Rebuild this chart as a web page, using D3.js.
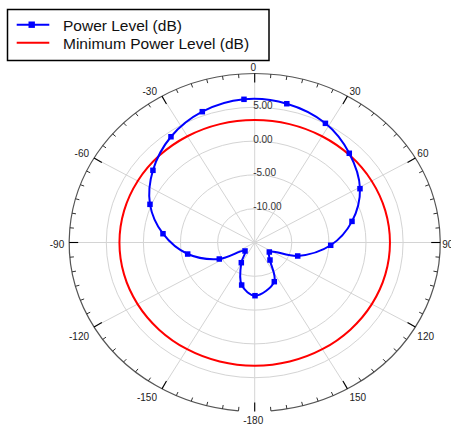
<!DOCTYPE html>
<html><head><meta charset="utf-8">
<script src="https://cdn.jsdelivr.net/npm/d3@7"></script>
<style>
html,body{margin:0;padding:0;background:#fff;}
svg{display:block;font-family:"Liberation Sans",Arial,sans-serif;}
</style></head>
<body><svg id="c" width="451" height="426"></svg>
<script>
// ---- data ----
const seriesNames = ["Power Level (dB)", "Minimum Power Level (dB)"];
const powerAngles = [-3.9, 11.9, 28.4, 44, 60.7, 76.6, 92.3, 109, 125.5, 141.5, 155.5, 179.7,
  -164.4, -148.9, -133.9, -117.1, -100.7, -84, -68.2, -52.1, -35.8, -20.05];
const powerValues = [6.23, 5.98, 5.04, 3.35, 1.27, -1.52, -4.75, -8.87, -12.58, -11.69, -8.63, -7.13,
  -8.47, -11.51, -13.19, -9.64, -5.81, -2.57, 0.2, 2.38, 4.29, 5.6];
const minAngles = [0, 15, 30, 45, 60, 75, 90, 105, 120, 135, 150, 165, 180, 195, 210, 225, 240, 255, 270, 285, 300, 315, 330, 345];
const minValues = [3.12, 3.13, 3.15, 3.18, 3.2, 3.22, 3.23, 3.23, 3.23, 3.23, 3.23, 3.23, 3.23, 3.23, 3.23, 3.23, 3.23, 3.23, 3.23, 3.22, 3.2, 3.18, 3.15, 3.13];
const radialTicks = [-10, -5, 0, 5];
const radialTickLabels = ["-10.00", "-5.00", "0.00", "5.00"];
const angleTicks = [0, 30, 60, 90, 120, 150, 180, 210, 240, 270, 300, 330];
const angleTickLabels = ["0", "30", "60", "90", "120", "150", "-180", "-150", "-120", "-90", "-60", "-30"];
const radialDomain = [-15, 10];

// ---- layout ----
const svg = d3.select("#c");
const cx = 254.7, cy = 242.5, RX = 185.5, RY = 169;
const rX = d3.scaleLinear().domain(radialDomain).range([0, RX]);
const rY = d3.scaleLinear().domain(radialDomain).range([0, RY]);
const aS = d3.scaleLinear().domain([0, 360]).range([0, 2 * Math.PI]);
function px(ang, v) { return cx + rX(v) * Math.sin(aS(ang)); }
function py(ang, v) { return cy - rY(v) * Math.cos(aS(ang)); }
// point at an outer-relative pixel offset
function ptOff(ang, off) {
  const a = aS(ang);
  return [cx + (RX + off) * Math.sin(a), cy - (RY + off) * Math.cos(a)];
}

const grid = svg.append("g");
// rings
grid.selectAll("ellipse.ring").data(radialTicks).join("ellipse")
  .attr("cx", cx).attr("cy", cy)
  .attr("rx", d => rX(d)).attr("ry", d => rY(d))
  .attr("fill", "none").attr("stroke", "#d4d4d4").attr("stroke-width", 1);
// spokes
grid.selectAll("line.spoke").data(angleTicks).join("line")
  .attr("x1", cx).attr("y1", cy)
  .attr("x2", d => px(d, radialDomain[1])).attr("y2", d => py(d, radialDomain[1]))
  .attr("stroke", "#d4d4d4").attr("stroke-width", 1);

// outer arc (gap around 180)
const p1 = [px(185, 10), py(185, 10)], p2 = [px(175, 10), py(175, 10)];
grid.append("path")
  .attr("d", `M${p1[0]},${p1[1]} A${RX},${RY} 0 1 1 ${p2[0]},${p2[1]}`)
  .attr("fill", "none").attr("stroke", "#555").attr("stroke-width", 1.2);

// ticks
const minor = d3.range(0, 360, 5).filter(d => d % 30 !== 0);
grid.selectAll("line.minor").data(minor).join("line")
  .attr("x1", d => ptOff(d, 0)[0]).attr("y1", d => ptOff(d, 0)[1])
  .attr("x2", d => ptOff(d, -4)[0]).attr("y2", d => ptOff(d, -4)[1])
  .attr("stroke", "#333").attr("stroke-width", 1);
grid.selectAll("line.major").data(angleTicks).join("line")
  .attr("x1", d => ptOff(d, 0)[0]).attr("y1", d => ptOff(d, 0)[1])
  .attr("x2", d => ptOff(d, -9)[0]).attr("y2", d => ptOff(d, -9)[1])
  .attr("stroke", "#000").attr("stroke-width", 1.1);

// angle labels
grid.selectAll("text.alab").data(angleTicks).join("text")
  .attr("font-size", 10).attr("fill", "#222")
  .attr("dominant-baseline", "central")
  .attr("text-anchor", d => { const s = Math.sin(aS(d)); return s > 0.1 ? "start" : s < -0.1 ? "end" : "middle"; })
  .attr("x", d => { const s = Math.sin(aS(d)); const p = ptOff(d, 0); return p[0] + (s > 0.1 ? 2 : s < -0.1 ? -5 : -1.5); })
  .attr("y", d => { const c = Math.cos(aS(d)); const p = ptOff(d, 0); return p[1] + (c > 0.9 ? -6.5 : c > 0.1 ? -4.5 : c < -0.1 ? 9 : 2); })
  .text((d, i) => angleTickLabels[i]);

// radial labels
grid.selectAll("text.rlab").data(radialTicks).join("text")
  .attr("font-size", 10).attr("fill", "#333")
  .attr("dominant-baseline", "central")
  .attr("x", cx - 1.5).attr("y", d => cy - rY(d) - 2)
  .text((d, i) => radialTickLabels[i]);

// series
const minData = minAngles.map((a, i) => [a, minValues[i]]);
const powData = powerAngles.map((a, i) => [a, powerValues[i]]);
const lineGen = d3.line().x(d => px(d[0], d[1])).y(d => py(d[0], d[1])).curve(d3.curveCatmullRomClosed.alpha(0.5));

svg.append("path").attr("d", lineGen(minData))
  .attr("fill", "none").attr("stroke", "#ff0000").attr("stroke-width", 2);
svg.append("path").attr("d", lineGen(powData))
  .attr("fill", "none").attr("stroke", "#0000ff").attr("stroke-width", 2);
const ms = 5.5;
svg.selectAll("rect.mk").data(powData).join("rect")
  .attr("x", d => px(d[0], d[1]) - ms / 2).attr("y", d => py(d[0], d[1]) - ms / 2)
  .attr("width", ms).attr("height", ms).attr("fill", "#0000ff");

// legend
const lg = svg.append("g");
lg.append("rect").attr("x", 7.5).attr("y", 9.5).attr("width", 261.5).attr("height", 51)
  .attr("fill", "#fff").attr("stroke", "#000").attr("stroke-width", 1.5);
const legendColors = ["#0000ff", "#ff0000"];
const legendY = [24.7, 42.7];
seriesNames.forEach((name, i) => {
  lg.append("line").attr("x1", 16.7).attr("x2", 49.3).attr("y1", legendY[i]).attr("y2", legendY[i])
    .attr("stroke", legendColors[i]).attr("stroke-width", 2);
  if (i === 0) {
    lg.append("rect").attr("x", 31.7 - 3.2).attr("y", legendY[i] - 3.2).attr("width", 6.4).attr("height", 6.4)
      .attr("fill", legendColors[i]);
  }
  lg.append("text").attr("x", 63).attr("y", legendY[i] + 0.8).attr("dominant-baseline", "central")
    .attr("font-size", 15.5).attr("fill", "#111").text(name);
});
</script></body></html>
